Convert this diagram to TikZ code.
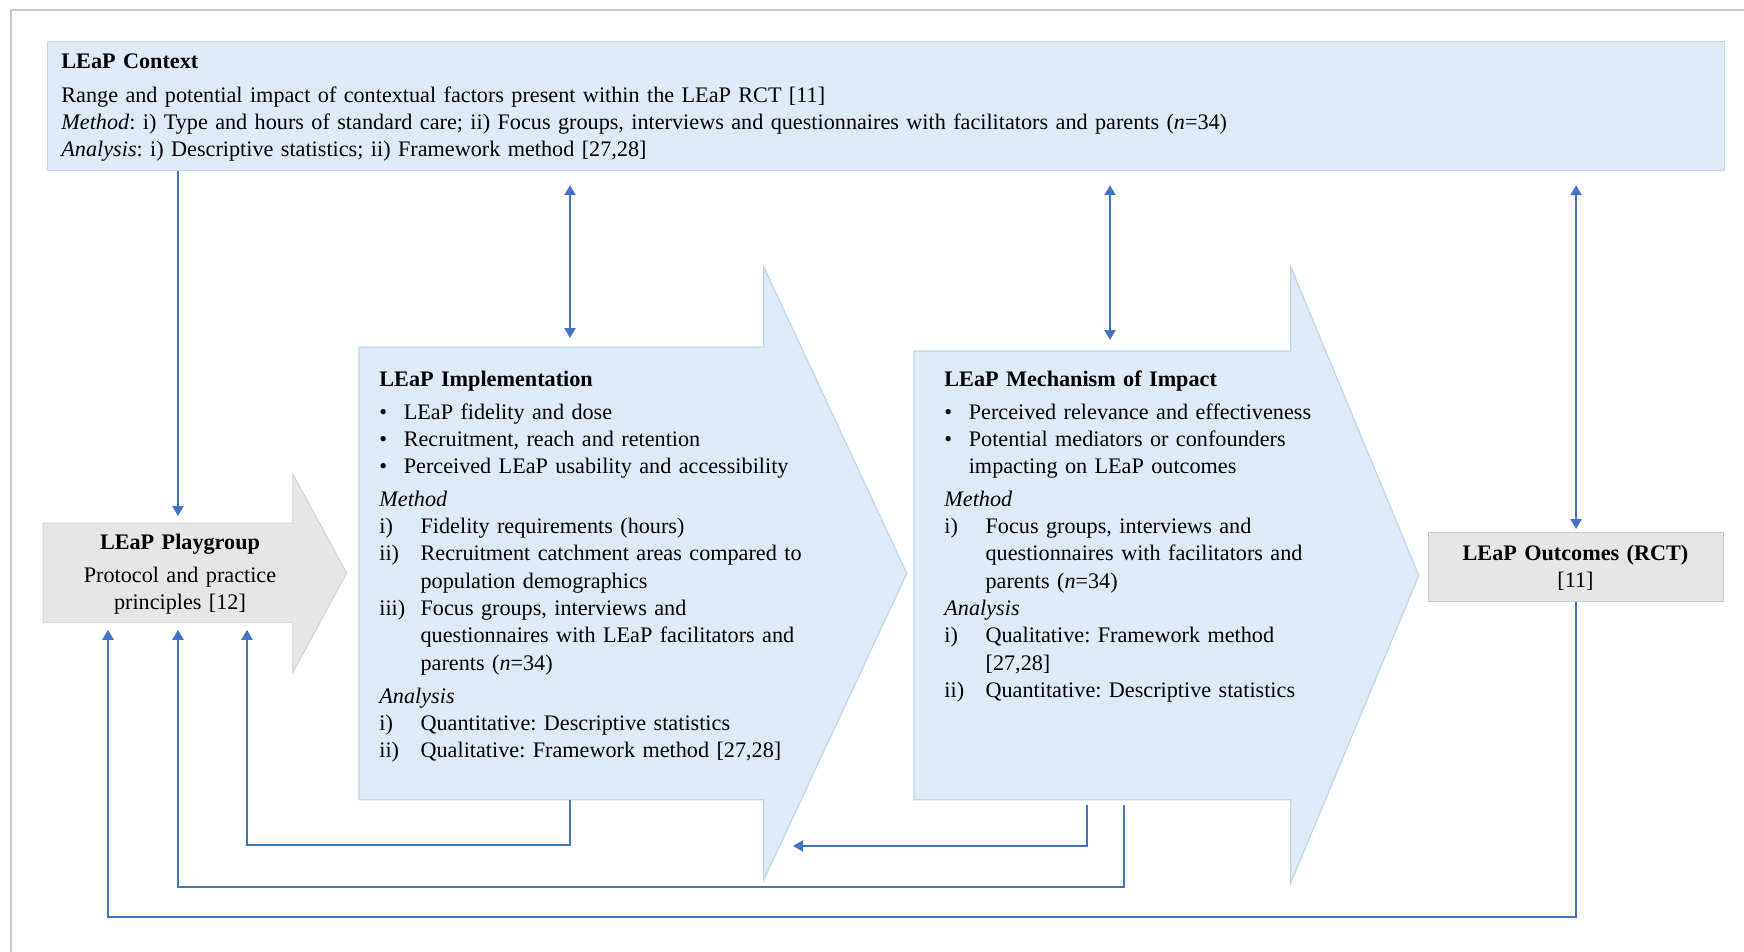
\documentclass[tikz,border=0pt]{standalone}
\usepackage{fontspec}
\setmainfont{Liberation Serif}
\usetikzlibrary{arrows.meta,calc}
\definecolor{blockfill}{HTML}{DEEBF7}
\definecolor{blockline}{HTML}{BDD7EE}
\definecolor{greyfill}{HTML}{E6E6E6}
\definecolor{greyline}{HTML}{C9C9C9}
\definecolor{linkblue}{HTML}{4472C4}
\definecolor{framegrey}{HTML}{C8C8C8}

\newcommand{\bulline}[1]{\makebox[12.2pt][l]{\textbullet}#1}
\newcommand{\bulwrap}[1]{\hspace*{12.2pt}#1}
\newcommand{\numline}[2]{\makebox[20.6pt][l]{#1}#2}
\newcommand{\wrapline}[1]{\hspace*{20.6pt}#1}
\frenchspacing

\begin{document}
\begin{tikzpicture}[
  x=0.5pt, y=-0.5pt,
  >={Triangle[length=5pt,width=5.5pt]},
  txt/.style={font=\fontsize{11.1}{13.65}\selectfont, inner sep=0pt},
  lefttext/.style={txt, anchor=base west, align=left, text width=#1},
  midtext/.style={txt, anchor=base, align=center, text width=#1},
  body/.style={anchor=north west, inner sep=0pt, minimum width=#1},
  bluearrow/.style={fill=blockfill, draw=blockline, line width=0.6pt},
  greyarrow/.style={fill=greyfill, draw=greyfill!90!black, line width=0.4pt},
  link/.style={->, draw=linkblue, line width=1.1pt},
  dlink/.style={<->, draw=linkblue, line width=1.1pt}
]
\useasboundingbox (0,0) rectangle (1744,952);
\draw[framegrey, line width=0.6pt] (11,952) -- (11,10) -- (1744,10);

% context box
\node[body=838.5pt, minimum height=64.5pt, fill=blockfill, draw=blockline, line width=0.6pt] (ctx) at (47,41) {};
\node[lefttext=800pt] (ctxtext) at (61,69) {\textbf{LEaP Context}\\[3pt]
Range and potential impact of contextual factors present within the LEaP RCT [11]\\
\textit{Method}: i) Type and hours of standard care; ii) Focus groups, interviews and questionnaires with facilitators and parents (\textit{n}=34)\\
\textit{Analysis}: i) Descriptive statistics; ii) Framework method [27,28]};

% block arrows
\node[body=124.5pt, minimum height=49.5pt] (pg) at (43,523) {};
\filldraw[greyarrow] (pg.north west) -- (pg.north east) -- ++(0,-49) -- ($(pg.east)+(54,0)$)
  -- ($(pg.south east)+(0,50)$) -- (pg.south east) -- (pg.south west) -- cycle;
\node[body=202pt, minimum height=226pt] (impl) at (359,347) {};
\filldraw[bluearrow] (impl.north west) -- (impl.north east) -- ++(0,-80) -- ($(impl.east)+(143,0)$)
  -- ($(impl.south east)+(0,80)$) -- (impl.south east) -- (impl.south west) -- cycle;
\node[body=188pt, minimum height=224pt] (mech) at (914,351) {};
\filldraw[bluearrow] (mech.north west) -- (mech.north east) -- ++(0,-84) -- ($(mech.east)+(128,0)$)
  -- ($(mech.south east)+(0,83)$) -- (mech.south east) -- (mech.south west) -- cycle;
\node[body=147.5pt, minimum height=34.5pt, fill=greyfill, draw=greyline, line width=0.6pt] (out) at (1428,532) {};

% texts
\node[midtext=130pt] (pgtext) at (180,549) {\textbf{LEaP Playgroup}\\[3pt]
Protocol and practice\\ principles [12]};
\node[lefttext=380pt] (impltext) at (379,386) {\textbf{LEaP Implementation}\\[3pt]
\bulline{LEaP fidelity and dose}\\
\bulline{Recruitment, reach and retention}\\
\bulline{Perceived LEaP usability and accessibility}\\[2.5pt]
\textit{Method}\\
\numline{i)}{Fidelity requirements (hours)}\\
\numline{ii)}{Recruitment catchment areas compared to}\\
\wrapline{population demographics}\\
\numline{iii)}{Focus groups, interviews and}\\
\wrapline{questionnaires with LEaP facilitators and}\\
\wrapline{parents (\textit{n}=34)}\\[3pt]
\textit{Analysis}\\
\numline{i)}{Quantitative: Descriptive statistics}\\
\numline{ii)}{Qualitative: Framework method [27,28]}};
\node[lefttext=330pt] (mechtext) at (944,386) {\textbf{LEaP Mechanism of Impact}\\[3pt]
\bulline{Perceived relevance and effectiveness}\\
\bulline{Potential mediators or confounders}\\
\bulwrap{impacting on LEaP outcomes}\\[2.5pt]
\textit{Method}\\
\numline{i)}{Focus groups, interviews and}\\
\wrapline{questionnaires with facilitators and}\\
\wrapline{parents (\textit{n}=34)}\\
\textit{Analysis}\\
\numline{i)}{Qualitative: Framework method}\\
\wrapline{[27,28]}\\
\numline{ii)}{Quantitative: Descriptive statistics}};
\node[midtext=140pt] (outtext) at (1575.5,560) {\textbf{LEaP Outcomes (RCT)}\\{[11]}};

% lanes and taps
\coordinate (laneA) at (108,917);
\coordinate (laneB) at (178,887);
\coordinate (laneC) at (247,845);
\coordinate (implTap) at (570,0);
\coordinate (mechTap) at (1110,0);
\coordinate (mechDrop) at (1124,0);
\coordinate (implHead) at (793,846);
\coordinate (mechBack) at (1087,0);

% connectors
\draw[link, shorten >=3.5pt] (ctx.south -| laneB) -- (pg.north -| laneB);
\draw[dlink, shorten <=7pt, shorten >=4.5pt] (ctx.south -| implTap) -- (impl.north -| implTap);
\draw[dlink, shorten <=7pt, shorten >=5.5pt] (ctx.south -| mechTap) -- (mech.north -| mechTap);
\draw[dlink, shorten <=7pt, shorten >=1.5pt] (ctx.south -| out.north) -- (out.north);
\draw[link, shorten >=3.5pt] (impl.south -| implTap) |- (laneC) -- (pg.south -| laneC);
\draw[link, shorten <=2.5pt] (mech.south -| mechBack) |- (implHead);
\draw[link, shorten <=2.5pt, shorten >=3.5pt] (mech.south -| mechDrop) |- (laneB) -- (pg.south -| laneB);
\draw[link, shorten >=3.5pt] (out.south) |- (laneA) -- (pg.south -| laneA);
\end{tikzpicture}
\end{document}
